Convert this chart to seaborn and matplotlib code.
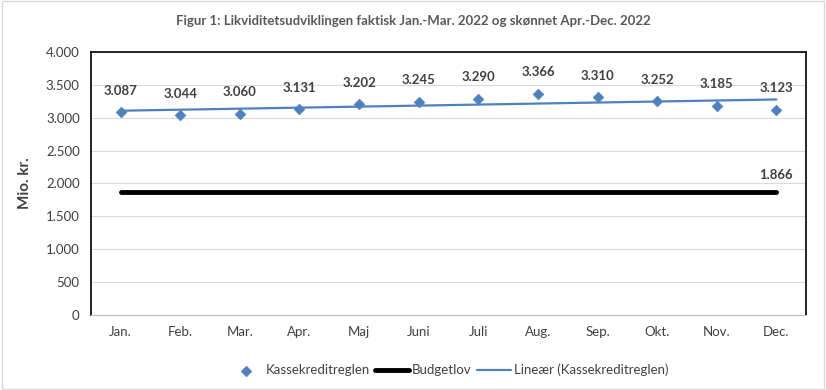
import matplotlib
matplotlib.use('Agg')
import matplotlib.pyplot as plt
import matplotlib.ticker as mticker
import seaborn as sns
import numpy as np
import pandas as pd

# Data
months = ['Jan.', 'Feb.', 'Mar.', 'Apr.', 'Maj', 'Juni', 'Juli', 'Aug.', 'Sep.', 'Okt.', 'Nov.', 'Dec.']
kassekredit = [3087, 3044, 3060, 3131, 3202, 3245, 3290, 3366, 3310, 3252, 3185, 3123]
budgetlov = [1866] * 12

sns.set_style('white')
plt.rcParams['font.family'] = ['Lato', 'DejaVu Sans']

df = pd.DataFrame({'Måned': months, 'Kassekreditreglen': kassekredit, 'Budgetlov': budgetlov})
df['x'] = np.arange(len(months))

# Lineær trend
slope, intercept = np.polyfit(df['x'], df['Kassekreditreglen'], 1)
df['Trend'] = intercept + slope * df['x']

blue = '#4F81BD'
txt = '#404040'

fig = plt.figure(figsize=(8.26, 3.9), dpi=100)
ax = fig.add_axes([0.110, 0.192, 0.866, 0.675])

sns.lineplot(data=df, x='x', y='Budgetlov', ax=ax, color='black', lw=3.5, label='Budgetlov', zorder=2)
sns.lineplot(data=df, x='x', y='Trend', ax=ax, color=blue, lw=1.6, label='Lineær (Kassekreditreglen)', zorder=3)
sns.scatterplot(data=df, x='x', y='Kassekreditreglen', ax=ax, marker='D', s=30, color=blue,
                edgecolor=blue, label='Kassekreditreglen', zorder=4)

def fmt(v):
    return f'{v:,.0f}'.replace(',', '.')

for xi, v in zip(df['x'], kassekredit):
    ax.annotate(fmt(v), (xi, v), xytext=(0, 11), textcoords='offset points', ha='center',
                va='bottom', fontsize=9.5, fontweight='bold', color=txt)
ax.annotate(fmt(budgetlov[-1]), (df['x'].iloc[-1], budgetlov[-1]), xytext=(0, 8),
            textcoords='offset points', ha='center', va='bottom', fontsize=9.5,
            fontweight='bold', color=txt)

ax.set_xlim(-0.5, len(months) - 0.5)
ax.set_ylim(0, 4000)
ax.yaxis.set_major_locator(mticker.MultipleLocator(500))
ax.yaxis.set_major_formatter(mticker.FuncFormatter(lambda v, p: fmt(v)))
ax.set_xticks(df['x'])
ax.set_xticklabels(months)
ax.tick_params(axis='both', labelsize=9.5, colors=txt, length=0, pad=8)
ax.set_xlabel('')
ax.set_ylabel('Mio. kr.', fontsize=11, fontweight='bold', color=txt, labelpad=10)
ax.grid(axis='y', color='#D9D9D9', lw=0.8)
ax.set_axisbelow(True)

for s in ['left', 'top', 'right']:
    ax.spines[s].set_color('black')
    ax.spines[s].set_linewidth(1.2)
ax.spines['bottom'].set_color('#BFBFBF')
ax.spines['bottom'].set_linewidth(0.8)

# små streger mellem kategorierne på x-aksen
ax.set_xticks(np.arange(-0.5, len(months), 1), minor=True)
ax.tick_params(axis='x', which='minor', length=5, color='#BFBFBF', direction='out')

fig.suptitle('Figur 1: Likviditetsudviklingen faktisk Jan.-Mar. 2022 og skønnet Apr.-Dec. 2022',
             x=0.5, y=0.962, fontsize=9.5, fontweight='bold', color='#595959')

handles, labels = ax.get_legend_handles_labels()
order = [labels.index('Kassekreditreglen'), labels.index('Budgetlov'), labels.index('Lineær (Kassekreditreglen)')]
ax.legend([handles[i] for i in order], [labels[i] for i in order], loc='upper center',
          bbox_to_anchor=(0.5, -0.14), ncol=3, frameon=False, fontsize=9.5,
          handlelength=2.6, columnspacing=0.4, handletextpad=0.2, labelcolor=txt)

fig.patches.append(plt.Rectangle((0.002, 0.003), 0.996, 0.994, transform=fig.transFigure,
                                 fill=False, edgecolor='#D9D9D9', lw=1))

fig.savefig('out.png', dpi=100)
